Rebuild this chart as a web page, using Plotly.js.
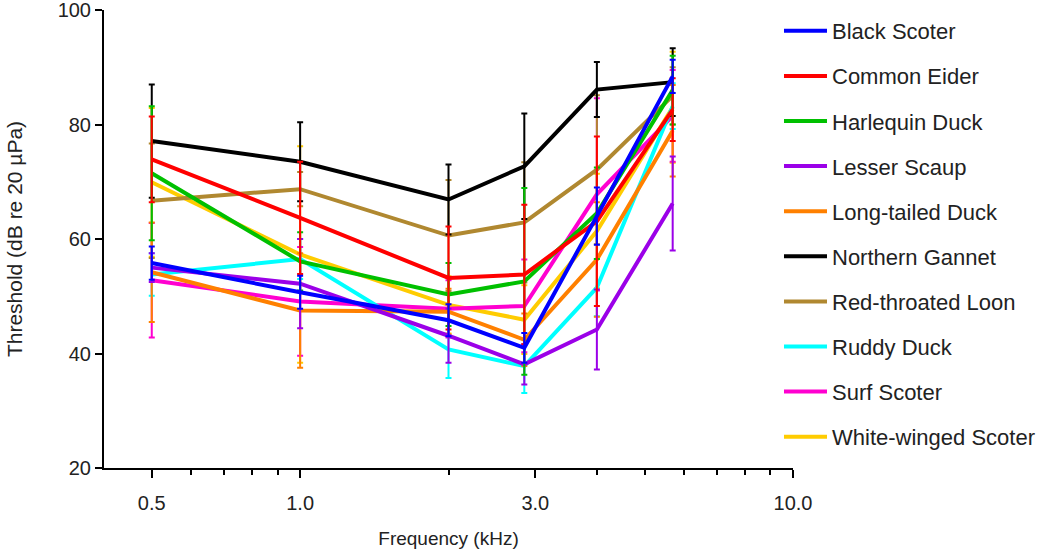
<!DOCTYPE html>
<html>
<head>
<meta charset="utf-8">
<script src="https://cdn.plot.ly/plotly-3.0.1.min.js"></script>
<style>html,body{margin:0;padding:0;background:#fff;}#chart{width:1050px;height:556px;}</style>
</head>
<body>
<div id="chart"></div>
<script>
// Frequencies (kHz)
const freq = [0.5, 1.0, 2.0, 2.85, 4.0, 5.7];

// Species names (legend order)
const species = ["Black Scoter", "Common Eider", "Harlequin Duck", "Lesser Scaup", "Long-tailed Duck",
                 "Northern Gannet", "Red-throated Loon", "Ruddy Duck", "Surf Scoter", "White-winged Scoter"];

// Mean thresholds (dB re 20 µPa)
const blackScoter     = [55.8, 50.7, 45.8, 41.0, 64.0, 88.4];
const commonEider     = [73.9, 63.7, 53.2, 53.8, 63.1, 82.6];
const harlequinDuck   = [71.5, 56.1, 50.3, 52.6, 64.5, 86.0];
const lesserScaup     = [55.0, 52.2, 43.1, 38.1, 44.2, 66.2];
const longtailedDuck  = [54.2, 47.5, 47.3, 42.4, 56.4, 78.9];
const northernGannet  = [77.1, 73.5, 66.9, 72.7, 86.1, 87.4];
const redthroatedLoon = [66.7, 68.7, 60.6, 62.9, 72.1, 85.0];
const ruddyDuck       = [53.8, 56.5, 40.7, 37.8, 51.5, 83.2];
const surfScoter      = [52.8, 49.1, 47.8, 48.3, 67.8, 81.5];
const whitewingedScoter = [69.9, 57.3, 48.5, 45.9, 61.4, 83.0];

// Error (± dB)
const blackScoterErr     = [2.9, 2.9, 2.8, 2.6, 5.0, 2.9];
const commonEiderErr     = [7.5, 9.8, 9.0, 12.2, 14.8, 5.5];
const harlequinDuckErr   = [11.7, 5.1, 5.5, 16.3, 8.0, 6.0];
const lesserScaupErr     = [2.5, 7.8, 4.7, 3.5, 7.0, 8.2];
const longtailedDuckErr  = [8.7, 10.0, 4.0, 4.6, 10.0, 8.0];
const northernGannetErr  = [9.9, 6.9, 6.1, 9.2, 4.8, 5.9];
const redthroatedLoonErr = [10.0, 3.0, 9.7, 10.5, 13.0, 5.0];
const ruddyDuckErr       = [3.7, 3.5, 5.0, 4.7, 5.0, 4.0];
const surfScoterErr      = [10.0, 9.5, 5.0, 8.1, 16.8, 8.0];
const whitewingedScoterErr = [13.0, 18.9, 5.0, 6.0, 10.0, 9.7];

const means = [blackScoter, commonEider, harlequinDuck, lesserScaup, longtailedDuck,
               northernGannet, redthroatedLoon, ruddyDuck, surfScoter, whitewingedScoter];
const errs = [blackScoterErr, commonEiderErr, harlequinDuckErr, lesserScaupErr, longtailedDuckErr,
              northernGannetErr, redthroatedLoonErr, ruddyDuckErr, surfScoterErr, whitewingedScoterErr];
const colors = ["#0000FF", "#FF0000", "#00C000", "#9B00E8", "#FF8000",
                "#000000", "#B08830", "#00FFFF", "#FF00D0", "#FFCC00"];

const xTickVals = [0.5, 1.0, 3.0, 10.0];
const xTickText = ["0.5", "1.0", "3.0", "10.0"];
const xMinorVals = [0.6, 0.7, 0.8, 0.9, 2, 4, 5, 6, 7, 8, 9];
const yTickVals = [20, 40, 60, 80, 100];

const traces = [];
for (let i = species.length - 1; i >= 0; i--) {
  traces.push({
    type: "scatter",
    mode: "lines",
    name: species[i],
    legendgroup: species[i],
    legendrank: i + 1,
    x: freq,
    y: means[i],
    line: {color: colors[i], width: 4},
    error_y: {type: "data", array: errs[i], visible: true, color: colors[i], thickness: 2, width: 3}
  });
}

const font = "Liberation Sans, Arial, sans-serif";
const layout = {
  width: 1050, height: 556,
  margin: {l: 104, r: 257, t: 10, b: 88, autoexpand: false},
  paper_bgcolor: "#fff", plot_bgcolor: "#fff",
  showlegend: true,
  legend: {
    xref: "container", yref: "paper",
    x: 0.7419, xanchor: "left", y: 1, yanchor: "top",
    font: {family: font, size: 22, color: "#222"},
    tracegroupgap: 13.5, itemwidth: 43, traceorder: "grouped"
  },
  xaxis: {
    type: "log", range: [Math.log10(0.4), 1],
    tickmode: "array", tickvals: xTickVals, ticktext: xTickText,
    ticks: "outside", ticklen: 8, tickwidth: 2, tickcolor: "#000",
    showline: true, linewidth: 2, linecolor: "#000",
    showgrid: false, zeroline: false,
    minor: {tickmode: "array", tickvals: xMinorVals, ticks: "outside", ticklen: 5, tickwidth: 2, tickcolor: "#000", showgrid: false},
    tickfont: {family: font, size: 20, color: "#222"},
    ticklabelstandoff: 8, ticklabeloverflow: "allow",
    title: {text: "Frequency (kHz)", font: {family: font, size: 19, color: "#222"}, standoff: 19}
  },
  yaxis: {
    range: [20, 100],
    tickmode: "array", tickvals: yTickVals,
    ticks: "outside", ticklen: 7, tickwidth: 2, tickcolor: "#000",
    showline: true, linewidth: 2, linecolor: "#000",
    showgrid: false, zeroline: false,
    tickfont: {family: font, size: 20, color: "#222"},
    ticklabeloverflow: "allow",
    title: {text: "Threshold (dB re 20 µPa)", font: {family: font, size: 21, color: "#222"}, standoff: 29}
  }
};

Plotly.newPlot("chart", traces, layout, {displayModeBar: false, staticPlot: true});
</script>
</body>
</html>
